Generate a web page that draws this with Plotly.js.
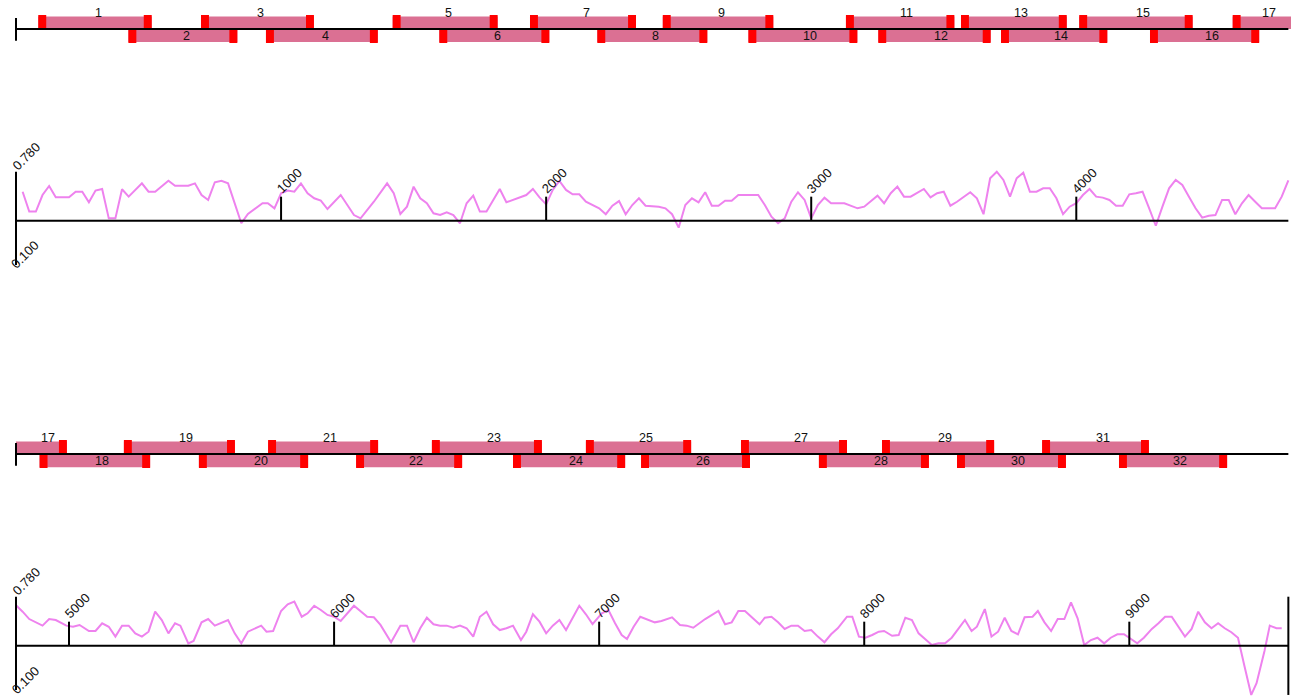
<!DOCTYPE html>
<html><head><meta charset="utf-8">
<script src="https://cdn.plot.ly/plotly-3.0.1.min.js"></script>
<style>html,body{margin:0;padding:0;background:#fff;} #chart{width:1291px;height:698px;}</style>
</head><body><div id="chart"></div>
<script>
// ---------------- data ----------------
const ampLabels = ['1','2','3','4','5','6','7','8','9','10','11','12','13','14','15','16',
  '17','18','19','20','21','22','23','24','25','26','27','28','29','30','31','32'];
const ampStart = [84,424,698,943,1421,1597,1939,2193,2440,2763,3131,3253,3565,3716,4011,4278,
  4590,4889,5207,5490,5751,6083,6369,6675,6950,7158,7535,7829,8067,8350,8671,8961];
const ampEnd = [512,835,1124,1365,1817,2012,2339,2608,2857,3174,3540,3677,3964,4117,4439,4690,
  4992,5306,5626,5902,6166,6483,6784,7098,7347,7569,7935,8244,8490,8761,9074,9369];
const primerLength = 30;

const gcPos = [25,50,75,100,125,150,200,225,250,275,300,325,350,375,400,425,475,500,525,575,600,650,675,700,725,750,775,800,850,875,930,950,975,
  1000,1025,1050,1075,1100,1125,1150,1175,1225,1275,1300,1350,1400,1425,1450,1475,1500,1525,1550,1575,1600,1625,1650,1675,1700,1725,1750,1775,1825,1850,1900,1925,1950,1975,
  2000,2025,2050,2075,2100,2125,2150,2175,2200,2225,2250,2275,2300,2325,2350,2375,2425,2450,2475,2500,2525,2550,2575,2600,2625,2650,2675,2700,2725,2800,2825,2850,2875,2900,2925,2950,2975,
  3000,3025,3050,3075,3125,3175,3200,3250,3275,3300,3325,3350,3375,3425,3450,3475,3500,3525,3550,3575,3600,3625,3650,3675,3700,3725,3750,3775,3800,3825,3850,3875,3900,3925,3950,3975,
  4000,4025,4050,4075,4100,4125,4150,4175,4200,4225,4250,4275,4300,4325,4350,4375,4400,4425,4450,4475,4500,4525,4550,4575,4600,4625,4650,4675,4700,4725,4750,4775,
  4800,4825,4850,4900,4925,4950,4990,5015,5040,5075,5100,5125,5150,5175,5200,5225,5250,5275,5300,5325,5350,5375,5400,5420,5450,5470,5500,5525,5550,5600,5625,5650,5675,5725,5745,5770,5800,5825,5850,5878,5900,5925,5950,5975,
  6000,6025,6075,6100,6125,6150,6175,6215,6250,6275,6300,6325,6350,6375,6400,6425,6450,6475,6500,6525,6550,6575,6600,6625,6650,6675,6705,6725,6750,6775,6800,6825,6850,6875,6900,6925,6950,6975,
  7010,7035,7060,7085,7105,7130,7155,7180,7210,7235,7275,7305,7330,7355,7400,7450,7475,7500,7525,7550,7575,7605,7625,7650,7675,7700,7725,7750,7775,7800,7825,7850,7875,7900,7935,7955,7980,
  8005,8030,8055,8075,8105,8130,8155,8180,8205,8255,8280,8305,8330,8380,8405,8425,8455,8480,8505,8530,8555,8580,8605,8635,8655,8680,8705,8730,8755,8780,8805,8830,8855,8880,8905,8930,8955,8980,
  9000,9030,9055,9085,9110,9135,9160,9185,9210,9235,9260,9285,9310,9335,9360,9385,9410,9435,9460,9480,9510,9530,9555,9575];
const gcVal = [0.634,0.489,0.489,0.610,0.676,0.593,0.593,0.634,0.634,0.557,0.642,0.654,0.440,0.440,0.652,0.598,0.695,0.634,0.634,0.714,0.678,0.678,0.695,0.610,0.574,0.703,0.714,0.695,0.404,0.472,0.550,0.550,0.513,
  0.623,0.642,0.634,0.695,0.623,0.586,0.569,0.508,0.610,0.464,0.440,0.561,0.695,0.623,0.472,0.525,0.671,0.586,0.550,0.477,0.464,0.484,0.464,0.404,0.550,0.605,0.489,0.489,0.654,0.557,0.593,0.610,0.654,0.593,
  0.542,0.647,0.712,0.647,0.615,0.615,0.561,0.537,0.513,0.470,0.532,0.566,0.470,0.537,0.586,0.532,0.525,0.513,0.470,0.372,0.537,0.586,0.557,0.630,0.532,0.532,0.569,0.569,0.610,0.610,0.537,0.452,0.404,0.440,0.561,0.630,0.574,
  0.440,0.537,0.591,0.550,0.550,0.513,0.525,0.605,0.550,0.623,0.671,0.598,0.598,0.654,0.593,0.623,0.634,0.532,0.561,0.598,0.630,0.586,0.470,0.732,0.780,0.720,0.598,0.732,0.772,0.634,0.634,0.659,0.659,0.586,0.470,0.525,
  0.550,0.610,0.654,0.598,0.591,0.574,0.532,0.532,0.615,0.623,0.634,0.513,0.386,0.525,0.659,0.720,0.683,0.598,0.513,0.445,0.459,0.464,0.574,0.574,0.470,0.550,0.610,0.561,0.513,0.513,0.513,0.598,
  0.717,0.671,0.617,0.569,0.617,0.610,0.569,0.561,0.574,0.530,0.530,0.586,0.561,0.489,0.569,0.569,0.513,0.489,0.525,0.671,0.610,0.513,0.586,0.569,0.440,0.457,0.593,0.617,0.569,0.610,0.513,0.440,0.525,0.569,0.525,0.530,0.676,0.725,0.744,0.634,0.659,0.714,0.683,0.647,
  0.634,0.603,0.714,0.676,0.634,0.630,0.574,0.448,0.569,0.569,0.448,0.550,0.627,0.579,0.569,0.569,0.554,0.569,0.550,0.489,0.634,0.671,0.579,0.537,0.550,0.569,0.464,0.525,0.652,0.598,0.513,0.569,0.610,0.537,0.623,0.714,0.652,0.580,
  0.659,0.683,0.586,0.501,0.472,0.561,0.634,0.617,0.593,0.603,0.630,0.574,0.569,0.554,0.617,0.676,0.579,0.593,0.676,0.676,0.634,0.579,0.627,0.634,0.593,0.545,0.569,0.569,0.530,0.537,0.489,0.448,0.506,0.550,0.634,0.634,0.489,
  0.481,0.501,0.525,0.530,0.495,0.501,0.627,0.610,0.513,0.428,0.440,0.440,0.481,0.610,0.530,0.561,0.690,0.489,0.525,0.627,0.530,0.506,0.630,0.634,0.676,0.593,0.530,0.617,0.617,0.739,0.623,0.428,0.464,0.481,0.440,0.481,0.506,0.506,
  0.481,0.440,0.481,0.545,0.586,0.634,0.634,0.561,0.489,0.545,0.671,0.593,0.550,0.586,0.550,0.521,0.481,0.270,0.064,0.149,0.384,0.569,0.550,0.550];

const tickVals = [1000,2000,3000,4000,5000,6000,7000,8000,9000];
const gcAxisMax = 0.78, gcAxisMin = 0.1;
const gcAxisLabels = ['0.780','0.100'];
const gcBaseline = 0.423;
const gcLowest = 0.064;
const rowStarts = [0, 4800];
const rowSpan = 4800;
const seqEnd = 9600;

// ---------------- drawing ----------------
const FONT = '"Liberation Sans", Arial, sans-serif';
const PINK = '#DB7093', RED = '#FF0000', VIOLET = '#EE82EE', INK = '#000000', TXT = '#111111';
const padL = 37.73, padR = 10;
const tickTop = 0.598;

const data = [], shapes = [], annotations = [];
function seg(xr, yr, x0, y0, x1, y1) {
  shapes.push({type:'line', xref:xr, yref:yr, x0:x0, y0:y0, x1:x1, y1:y1, line:{color:INK, width:2}});
}

rowStarts.forEach((rs, r) => {
  const re = rs + rowSpan;
  const ax = r === 0 ? ['x','y'] : ['x3','y3'];
  const gx = r === 0 ? ['x2','y2'] : ['x4','y4'];

  const bars = {base:[], len:[], y:[]};
  const prim = {base:[], len:[], y:[]};
  ampStart.forEach((s, i) => {
    const e = ampEnd[i];
    const lo = Math.max(s, rs), hi = Math.min(e, re + padR);
    if (hi <= lo) return;
    const top = i % 2 === 0;
    bars.base.push(lo); bars.len.push(hi - lo); bars.y.push(top ? 0.5 : -0.55);
    [[s, s + primerLength], [e - primerLength, e]].forEach(([a, b]) => {
      const l2 = Math.max(a, rs), h2 = Math.min(b, re + padR);
      if (h2 > l2) { prim.base.push(l2); prim.len.push(h2 - l2); prim.y.push(top ? 0.55 : -0.55); }
    });
    annotations.push({xref:ax[0], yref:ax[1], x:(lo + hi) / 2, y: top ? 1.256 : -0.56,
      text: ampLabels[i], xanchor:'left', yanchor:'middle', showarrow:false, xshift:-2,
      font:{size:12.5, color:TXT, family:FONT}});
  });
  data.push({type:'bar', orientation:'h', base:bars.base, x:bars.len, y:bars.y, width:1,
    marker:{color:PINK, line:{width:0}}, xaxis:ax[0], yaxis:ax[1], hoverinfo:'skip'});
  data.push({type:'bar', orientation:'h', base:prim.base, x:prim.len, y:prim.y, width:1.14,
    marker:{color:RED, line:{width:0}}, xaxis:ax[0], yaxis:ax[1], hoverinfo:'skip'});

  // amplicon axis
  seg(ax[0], ax[1], rs, 0, re, 0);
  seg(ax[0], ax[1], rs, 0.88, rs, -0.94);

  // GC line
  const px = [], py = [];
  gcPos.forEach((p, i) => { if (p >= rs && p <= re) { px.push(p); py.push(gcVal[i]); } });
  data.push({type:'scatter', mode:'lines', x:px, y:py, line:{color:VIOLET, width:2},
    xaxis:gx[0], yaxis:gx[1], hoverinfo:'skip'});

  // GC axes
  seg(gx[0], gx[1], rs, gcBaseline, re, gcBaseline);
  seg(gx[0], gx[1], rs, gcAxisMin, rs, gcAxisMax);
  if (seqEnd > rs && seqEnd <= re) seg(gx[0], gx[1], seqEnd, gcLowest, seqEnd, gcAxisMax);
  tickVals.forEach(t => {
    if (t > rs && t < re) {
      seg(gx[0], gx[1], t, gcBaseline, t, tickTop);
      annotations.push({xref:gx[0], yref:gx[1], x:t, y:tickTop, text:String(t), textangle:-45,
        xanchor:'center', yanchor:'middle', xshift:8.5, yshift:16, showarrow:false,
        font:{size:13, color:TXT, family:FONT}});
    }
  });
  annotations.push({xref:gx[0], yref:gx[1], x:rs, y:gcAxisMax, text:gcAxisLabels[0], textangle:-45,
    xanchor:'center', yanchor:'middle', xshift:10, yshift:15.5, showarrow:false, font:{size:13, color:TXT, family:FONT}});
  annotations.push({xref:gx[0], yref:gx[1], x:rs, y:gcAxisMin, text:gcAxisLabels[1], textangle:-45,
    xanchor:'center', yanchor:'middle', xshift:9, yshift:10, showarrow:false, font:{size:13, color:TXT, family:FONT}});
});

function xa(rs, anchor) { return {domain:[0,1], range:[rs - padL, rs + rowSpan + padR], visible:false, fixedrange:true, anchor:anchor}; }
function ya(dom, rng, anchor) { return {domain:dom, range:rng, visible:false, fixedrange:true, anchor:anchor, type:'linear'}; }

const layout = {
  width:1291, height:698, margin:{l:6, r:0, t:0, b:0},
  paper_bgcolor:'#ffffff', plot_bgcolor:'#ffffff',
  showlegend:false, barmode:'overlay', hovermode:false,
  font:{family:FONT, size:12, color:TXT},
  xaxis: xa(rowStarts[0], 'y'),
  xaxis2: xa(rowStarts[0], 'y2'),
  xaxis3: xa(rowStarts[1], 'y3'),
  xaxis4: xa(rowStarts[1], 'y4'),
  yaxis: ya([0.92837, 1.0], [-1.68, 2.32], 'x'),
  yaxis2: ya([0.58453, 0.79943], [-0.0822, 1.0110], 'x2'),
  yaxis3: ya([0.31948, 0.39112], [-1.68, 2.32], 'x3'),
  yaxis4: ya([0.0, 0.19054], [0.0417, 1.0110], 'x4'),
  shapes: shapes, annotations: annotations
};
Plotly.newPlot('chart', data, layout, {displayModeBar:false, staticPlot:true});
</script></body></html>
